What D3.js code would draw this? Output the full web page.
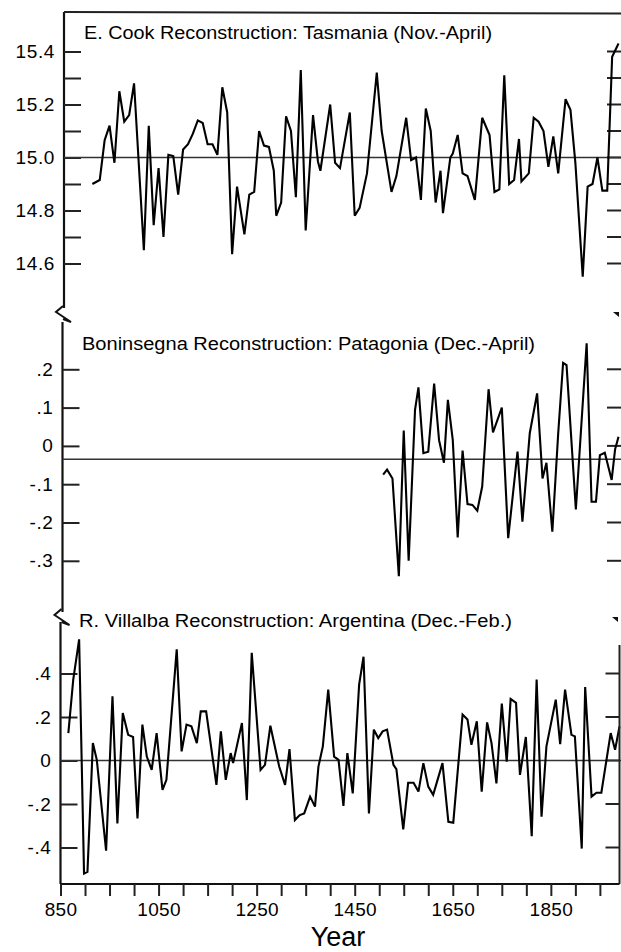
<!DOCTYPE html>
<html>
<head>
<meta charset="utf-8">
<script src="https://cdn.jsdelivr.net/npm/d3@7"></script>
<style>
html, body { margin: 0; padding: 0; background: #fff; overflow: hidden; }
svg { display: block; }
svg text { font-family: "Liberation Sans", Arial, Helvetica, sans-serif; fill: #000; }
</style>
</head>
<body>
<script>
// E. Cook reconstruction, Tasmania (Nov.-April)
var tasYears = [915, 930, 940, 950, 960, 970, 980, 990, 1000, 1020, 1030, 1040, 1050, 1060, 1070, 1080, 1090, 1100,
  1110, 1120, 1130, 1140, 1150, 1160, 1170, 1180, 1190, 1200, 1210, 1225, 1235, 1245, 1255, 1265, 1275, 1285,
  1290, 1300, 1310, 1320, 1330, 1340, 1350, 1365, 1375, 1380, 1400, 1410, 1420, 1440, 1450, 1460, 1475, 1495,
  1505, 1525, 1535, 1555, 1565, 1575, 1585, 1595, 1605, 1615, 1625, 1630, 1645, 1650, 1660, 1670, 1680, 1695,
  1710, 1725, 1735, 1745, 1755, 1765, 1775, 1785, 1790, 1805, 1815, 1825, 1835, 1845, 1855, 1865, 1880, 1890,
  1900, 1915, 1925, 1935, 1945, 1955, 1965, 1975, 1988];
var tasValues = [14.90, 14.915, 15.065, 15.12, 14.98, 15.25, 15.135, 15.16, 15.28, 14.65, 15.12, 14.745, 14.96, 14.70, 15.01, 15.005, 14.86, 15.03,
  15.05, 15.09, 15.14, 15.13, 15.05, 15.05, 15.01, 15.265, 15.17, 14.635, 14.89, 14.71, 14.86, 14.87, 15.10, 15.045, 15.04, 14.95,
  14.78, 14.83, 15.155, 15.10, 14.85, 15.33, 14.725, 15.16, 14.985, 14.95, 15.20, 14.98, 14.96, 15.17, 14.78, 14.81, 14.94, 15.32,
  15.10, 14.87, 14.93, 15.15, 14.99, 15.00, 14.84, 15.185, 15.10, 14.83, 14.95, 14.79, 15.00, 15.015, 15.085, 14.94, 14.93, 14.84,
  15.15, 15.085, 14.87, 14.88, 15.31, 14.90, 14.915, 15.07, 14.91, 14.94, 15.15, 15.135, 15.10, 14.965, 15.08, 14.94, 15.22, 15.18,
  14.98, 14.55, 14.89, 14.90, 15.00, 14.875, 14.875, 15.38, 15.43];

// Boninsegna reconstruction, Patagonia (Dec.-April)
var patYears = [1508, 1516, 1527, 1540, 1550, 1560, 1573, 1580, 1590, 1600, 1612, 1622, 1632, 1640, 1650, 1660, 1670,
  1680, 1690, 1700, 1710, 1723, 1732, 1750, 1763, 1782, 1792, 1807, 1822, 1833, 1841, 1853, 1865, 1875, 1882,
  1901, 1923, 1933, 1942, 1950, 1960, 1974, 1981, 1988];
var patValues = [-0.075, -0.062, -0.085, -0.34, 0.04, -0.30, 0.094, 0.153, -0.019, -0.015, 0.163, 0.015, -0.044, 0.12, 0.015, -0.239, -0.012,
  -0.152, -0.154, -0.169, -0.106, 0.148, 0.035, 0.10, -0.241, -0.015, -0.198, 0.033, 0.137, -0.085, -0.044, -0.224, 0.033, 0.217, 0.211,
  -0.166, 0.268, -0.146, -0.146, -0.024, -0.018, -0.089, -0.009, 0.024];

// R. Villalba reconstruction, Argentina (Dec.-Feb.)
var argYears = [866, 876, 888, 898, 905, 916, 924, 943, 956, 966, 977, 988, 998, 1007, 1017, 1026, 1036, 1046, 1058,
  1066, 1087, 1097, 1107, 1117, 1128, 1136, 1147, 1168, 1177, 1187, 1197, 1202, 1220, 1230, 1240, 1258, 1267,
  1278, 1296, 1308, 1317, 1328, 1338, 1347, 1359, 1369, 1376, 1385, 1396, 1408, 1417, 1427, 1435, 1446, 1459,
  1468, 1479, 1489, 1498, 1507, 1516, 1529, 1535, 1549, 1559, 1570, 1580, 1590, 1600, 1610, 1629, 1641, 1651,
  1670, 1680, 1688, 1699, 1709, 1720, 1729, 1739, 1750, 1760, 1768, 1779, 1787, 1799, 1811, 1821, 1831, 1841,
  1860, 1869, 1879, 1892, 1899, 1913, 1920, 1933, 1943, 1953, 1972, 1981, 1990];
var argValues = [0.126, 0.372, 0.557, -0.52, -0.512, 0.08, 0.003, -0.415, 0.295, -0.289, 0.218, 0.118, 0.108, -0.266, 0.165, 0.018, -0.043, 0.126, -0.135,
  -0.089, 0.511, 0.042, 0.165, 0.157, 0.08, 0.226, 0.226, -0.112, 0.134, -0.089, 0.034, -0.012, 0.172, -0.182, 0.495, -0.043, -0.02,
  0.16, -0.028, -0.112, 0.052, -0.274, -0.251, -0.243, -0.166, -0.212, -0.028, 0.065, 0.326, 0.018, 0.003, -0.209, 0.034, -0.151, 0.349,
  0.477, -0.243, 0.142, 0.103, 0.134, 0.142, -0.02, -0.04, -0.317, -0.102, -0.102, -0.143, -0.012, -0.12, -0.158, -0.012, -0.282, -0.286,
  0.211, 0.188, 0.072, 0.18, -0.143, 0.175, 0.08, -0.105, 0.262, -0.005, 0.283, 0.265, -0.066, 0.108, -0.348, 0.372, -0.258, 0.065,
  0.28, 0.075, 0.326, 0.118, 0.111, -0.405, 0.338, -0.166, -0.148, -0.148, 0.126, 0.049, 0.157];

var titles = ["E. Cook Reconstruction: Tasmania (Nov.-April)",
  "Boninsegna Reconstruction: Patagonia (Dec.-April)",
  "R. Villalba Reconstruction: Argentina (Dec.-Feb.)"];
var tasTicks = [14.6, 14.7, 14.8, 14.9, 15.0, 15.1, 15.2, 15.3, 15.4];
var tasLabels = [14.6, 14.8, 15.0, 15.2, 15.4];
var patTicks = [0.2, 0.1, 0, -0.1, -0.2, -0.3];
var argTicks = [0.4, 0.2, 0, -0.2, -0.4];
var refLines = [15.0, -0.035, 0];
var yearTicks = [850, 900, 950, 1000, 1050, 1100, 1150, 1200, 1250, 1300, 1350, 1400, 1450, 1500, 1550, 1600,
  1650, 1700, 1750, 1800, 1850, 1900, 1950];
var yearLabels = [850, 1050, 1250, 1450, 1650, 1850];

var width = 621, height = 952;
var svg = d3.select("body").append("svg")
  .attr("width", width)
  .attr("height", height);

var x = d3.scaleLinear().domain([850, 1990]).range([60.5, 619.5]);

function dotFmt(d) {
  if (d === 0) return "0";
  var s = Math.abs(d).toFixed(1).replace(/^0/, "");
  return (d < 0 ? "-" : "") + s;
}

// panel layout
var panels = [
  { years: tasYears, values: tasValues, ticks: tasTicks, labels: tasLabels, fmt: function(d){ return d.toFixed(1); },
    y: d3.scaleLinear().domain([14.6, 15.4]).range([263.5, 51.5]),
    top: 12, bottom: 308, axisX: 64, rightX: 621, titleX: 84, titleY: 39, titleW: 408 },
  { years: patYears, values: patValues, ticks: patTicks, labels: patTicks, fmt: dotFmt,
    y: d3.scaleLinear().domain([-0.3, 0.2]).range([560.8, 369.3]),
    top: 322, bottom: 612, axisX: 62.5, rightX: 621, titleX: 82, titleY: 350, titleW: 453 },
  { years: argYears, values: argValues, ticks: argTicks, labels: argTicks, fmt: dotFmt,
    y: d3.scaleLinear().domain([-0.4, 0.4]).range([847.5, 673.5]),
    top: 622, bottom: 884, axisX: 60.5, rightX: 619.5, titleX: 79, titleY: 627, titleW: 433 }
];

panels.forEach(function(p, i) {
  var g = svg.append("g");

  // left axis line
  g.append("line")
    .attr("x1", p.axisX).attr("x2", p.axisX)
    .attr("y1", p.top).attr("y2", p.bottom)
    .attr("stroke", "#111").attr("stroke-width", 2.2);

  // left ticks (inward) + labels
  var left = d3.axisLeft(p.y)
    .tickValues(p.ticks)
    .tickSizeInner(-17).tickSizeOuter(0).tickPadding(9)
    .tickFormat(function(d) {
      return p.labels.some(function(l) { return Math.abs(l - d) < 1e-9; }) ? p.fmt(d) : "";
    });
  var ga = g.append("g")
    .attr("transform", "translate(" + p.axisX + ",0)")
    .call(left);
  ga.selectAll(".domain").remove();
  ga.selectAll("line").attr("stroke", "#222").attr("stroke-width", 2);
  ga.selectAll("text").attr("font-size", 19).attr("letter-spacing", 0.6);

  // right ticks (inward), one per tick value
  g.selectAll("line.rtick")
    .data(p.ticks)
    .enter().append("line")
    .attr("class", "rtick")
    .attr("x1", p.rightX - 14).attr("x2", p.rightX)
    .attr("y1", function(d) { return p.y(d); })
    .attr("y2", function(d) { return p.y(d); })
    .attr("stroke", "#222").attr("stroke-width", 2);

  // reference line
  g.append("line")
    .attr("x1", p.axisX).attr("x2", width)
    .attr("y1", p.y(refLines[i])).attr("y2", p.y(refLines[i]))
    .attr("stroke", "#333").attr("stroke-width", 1.4);

  // series
  var line = d3.line()
    .x(function(d) { return x(d[0]); })
    .y(function(d) { return p.y(d[1]); });
  g.append("path")
    .datum(d3.zip(p.years, p.values))
    .attr("d", line)
    .attr("fill", "none")
    .attr("stroke", "#000")
    .attr("stroke-width", 2.1)
    .attr("stroke-linejoin", "miter")
    .attr("stroke-miterlimit", 3);

  // title
  g.append("text")
    .attr("x", p.titleX).attr("y", p.titleY)
    .attr("font-size", 17.5)
    .attr("textLength", p.titleW)
    .attr("lengthAdjust", "spacingAndGlyphs")
    .text(titles[i]);
});

// top frame line
svg.append("line")
  .attr("x1", panels[0].axisX).attr("x2", width)
  .attr("y1", 12).attr("y2", 13.5)
  .attr("stroke", "#222").attr("stroke-width", 2);

// right frame of the lower panel
svg.append("line")
  .attr("x1", panels[2].rightX).attr("x2", panels[2].rightX)
  .attr("y1", 645).attr("y2", panels[2].bottom)
  .attr("stroke", "#222").attr("stroke-width", 2);

// axis breaks
function leftBreak(ax, yb) {
  svg.append("path")
    .attr("d", "M" + ax + "," + (yb - 4) + "L" + (ax - 7) + "," + (yb + 2) + "L" + (ax + 8) + "," + (yb + 12) + "L" + ax + "," + (yb + 9))
    .attr("fill", "none").attr("stroke", "#111").attr("stroke-width", 2);
}
leftBreak(63, 310);
leftBreak(61.5, 613);
function rightMark(xx, yy) {
  svg.append("path")
    .attr("d", "M" + (xx - 4) + "," + yy + "L" + (xx + 2) + "," + yy + "L" + (xx + 2) + "," + (yy + 5) + "Z")
    .attr("fill", "#111");
}
rightMark(617, 312);
rightMark(616, 617);

// bottom year axis
var bottomAxis = d3.axisBottom(x)
  .tickValues(yearTicks)
  .tickSizeInner(12).tickSizeOuter(0).tickPadding(7)
  .tickFormat(function(d) { return yearLabels.indexOf(d) >= 0 ? d : ""; });
var gb = svg.append("g")
  .attr("transform", "translate(0," + panels[2].bottom + ")")
  .call(bottomAxis);
gb.select(".domain").attr("stroke", "#111").attr("stroke-width", 2.2)
  .attr("d", "M" + panels[2].axisX + ",0H" + panels[2].rightX);
gb.selectAll("line").attr("stroke", "#222").attr("stroke-width", 2);
gb.selectAll("text").attr("font-size", 19).attr("letter-spacing", 0.3);

svg.append("text")
  .attr("x", 338).attr("y", 946)
  .attr("text-anchor", "middle")
  .attr("font-size", 27)
  .text("Year");
</script>
</body>
</html>
